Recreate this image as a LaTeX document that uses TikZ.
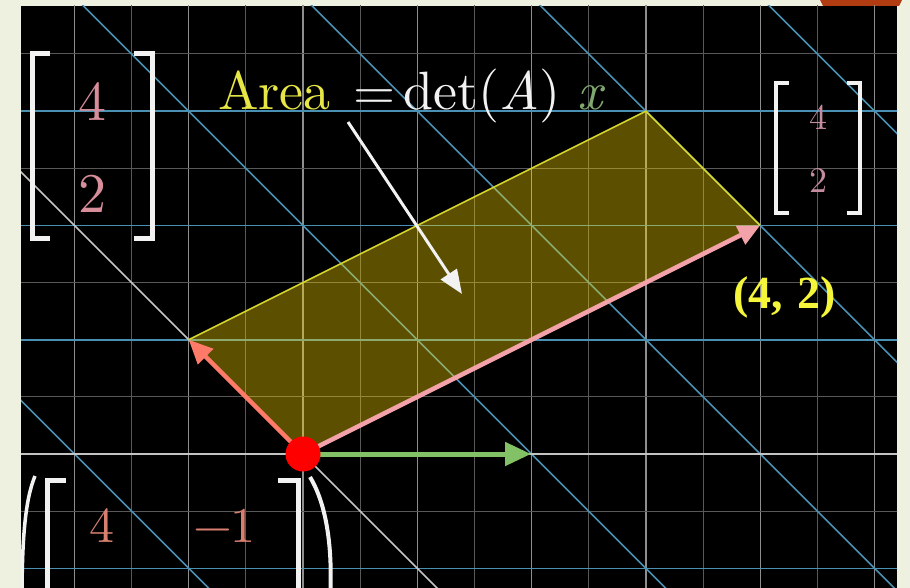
\documentclass[tikz,border=0pt]{standalone}
\usepackage{fontspec}
\newfontfamily\serifb{Liberation Serif}
\newfontfamily\cmten{lmroman10-regular}[Extension=.otf, ItalicFont=lmroman10-italic, BoldFont=lmroman10-bold]
\usetikzlibrary{arrows.meta}
\definecolor{pagebg}{HTML}{EEF1E0}
\definecolor{tabred}{HTML}{B23C12}
\definecolor{gunit}{HTML}{8E8E8E}
\definecolor{ghalf}{HTML}{585858}
\definecolor{tblue}{HTML}{4A90B2}
\definecolor{axw}{HTML}{C4C4C4}
\definecolor{fillyel}{HTML}{FFDC00}
\definecolor{edgeyel}{HTML}{D6D630}
\definecolor{pinkvec}{HTML}{F2A2A8}
\definecolor{orangevec}{HTML}{FF7A68}
\definecolor{greenvec}{HTML}{83C167}
\definecolor{areayel}{HTML}{E6E645}
\definecolor{xgreen}{HTML}{7FA870}
\definecolor{digpink}{HTML}{D88E9A}
\definecolor{digpinkb}{HTML}{C58CA0}
\definecolor{digsal}{HTML}{D8806F}
\definecolor{coordyel}{HTML}{F5F53A}
\definecolor{brwhite}{HTML}{F2F2F2}
\tikzset{
  unitline/.style={draw=gunit, line width=1.3pt},
  halfline/.style={draw=ghalf, line width=1pt},
  blueline/.style={draw=tblue, line width=1.6pt},
  axisline/.style={draw=axw, line width=1.6pt},
  vecpink/.style={draw=pinkvec, line width=4.5pt, -{Triangle[length=22pt,width=20pt,fill=pinkvec]}},
  vecorange/.style={draw=orangevec, line width=4.5pt, -{Triangle[length=24pt,width=21pt,fill=orangevec]}},
  vecgreen/.style={draw=greenvec, line width=5pt, -{Triangle[length=26pt,width=23pt,fill=greenvec]}},
  whitearrow/.style={draw=brwhite, line width=3pt, -{Triangle[length=24pt,width=19pt,fill=brwhite]}},
  bracket/.style={draw=brwhite, line width=5pt, line cap=butt, line join=miter},
  bracketsm/.style={draw=brwhite, line width=4pt, line cap=butt, line join=miter},
  txt/.style={inner sep=0pt, anchor=base west, font=\cmten},
  dig/.style={inner sep=0pt, anchor=base, font=\cmten}
}
\begin{document}
\begin{tikzpicture}[x=1pt,y=-1pt]
\useasboundingbox (0,0) rectangle (910,588);
\fill[pagebg] (0,0) rectangle (910,588);
\fill[tabred] (820,0) -- (902,0) -- (899,6) -- (823,6) -- cycle;
\fill[black] (21,6) rectangle (897,588);
\begin{scope}
\clip (21,6) rectangle (897,588);
% background plane
\foreach \k in {-4,...,10}{
  \pgfmathsetmacro\xx{303+57.15*\k}
  \ifodd\k \draw[halfline] (\xx,0) -- (\xx,600); \else \draw[unitline] (\xx,0) -- (\xx,600); \fi
}
\foreach \k in {-1,1,3,5,7}{
  \pgfmathsetmacro\yy{454-57.15*\k}
  \draw[halfline] (0,\yy) -- (910,\yy);
}
% transformed plane
\foreach \k in {-2,2,4,6}{
  \pgfmathsetmacro\yy{454-57.15*\k}
  \draw[blueline] (0,\yy) -- (910,\yy);
}
\foreach \m in {-1,1,2,3,4}{
  \pgfmathsetmacro\xa{-161+228.6*\m}
  \pgfmathsetmacro\xb{449+228.6*\m}
  \draw[blueline] (\xa,-10) -- (\xb,600);
}
\draw[axisline] (0,454) -- (910,454);
\draw[axisline] (-161,-10) -- (449,600);

% parallelogram
\coordinate (O) at (303,454);
\coordinate (P) at (188.7,339.7);
\coordinate (Q) at (760.2,225.4);
\coordinate (R) at (645.9,111.1);
\coordinate (G) at (531,454);
\fill[fillyel, fill opacity=0.36] (O) -- (P) -- (R) -- (Q) -- cycle;
\draw[edgeyel, line width=1.6pt] (P) -- (R) -- (Q);
\draw[vecgreen] (O) -- (G);
\draw[vecpink] (O) -- (Q);
\draw[vecorange] (O) -- (P);
\node[circle, fill=red, minimum size=35pt, inner sep=0pt] (dot) at (O) {};

% white arrow
\coordinate (wa1) at (348,122);
\coordinate (wa2) at (462,294);
\draw[whitearrow] (wa1) -- (wa2);

% bottom matrix
\coordinate (lp1) at (35,476);
\coordinate (lp2) at (22,600);
\draw[brwhite, line width=3.5pt] (lp1) .. controls (25,500) and (22,540) .. (lp2);
\coordinate (bl1) at (66,480);
\coordinate (bl2) at (47,480);
\coordinate (bl3) at (47,600);
\draw[bracket] (bl1) -- (bl2) -- (bl3);
\coordinate (br1) at (278,480);
\coordinate (br2) at (298,480);
\coordinate (br3) at (298,600);
\draw[bracket] (br1) -- (br2) -- (br3);
\coordinate (rp1) at (310,477);
\coordinate (rp2) at (330,600);
\draw[brwhite, line width=4pt] (rp1) .. controls (327,505) and (333,550) .. (rp2);
\end{scope}

% text
\node[txt, text=areayel] (area) at (218,110) {\fontsize{54}{60}\selectfont Area};
\node[txt, text=brwhite] (eq) at (353,110) {\fontsize{54}{60}\selectfont =};
\node[txt, text=brwhite] (det) at (403,110) {\fontsize{54}{60}\selectfont det(\textit{A})};
\node[txt, text=xgreen] (xv) at (577,110) {\fontsize{54}{60}\selectfont\itshape x};

% left matrix
\draw[bracket] (50,54) -- (32,54) -- (32,238) -- (50,238);
\draw[bracket] (134,54) -- (152,54) -- (152,238) -- (134,238);
\node[dig, text=digpink] (l4) at (92,121) {\fontsize{56}{62}\selectfont 4};
\node[dig, text=digpink] (l2) at (92,212) {\fontsize{56}{62}\selectfont 2};

% right matrix
\draw[bracketsm] (789,83) -- (776,83) -- (776,213) -- (789,213);
\draw[bracketsm] (847,83) -- (860,83) -- (860,213) -- (847,213);
\node[dig, text=digpinkb] (r4) at (818,130) {\fontsize{36}{40}\selectfont 4};
\node[dig, text=digpinkb] (r2) at (818,193) {\fontsize{36}{40}\selectfont 2};

% coordinate label
\node[inner sep=0pt, anchor=base west, text=coordyel] (lab) at (733,308) {\serifb\bfseries\fontsize{46}{52}\selectfont (4,\hspace{14pt}2)};

% bottom entries
\node[dig, text=digsal] (b4) at (102,542) {\fontsize{50}{56}\selectfont 4};
\node[txt, text=digsal] (bm1) at (193,542) {\fontsize{50}{56}\selectfont −\kern-2pt 1};
\end{tikzpicture}
\end{document}
